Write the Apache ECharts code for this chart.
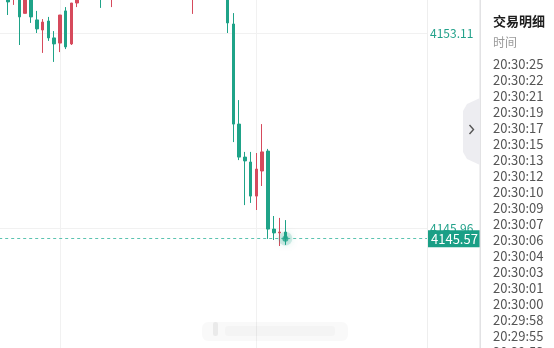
<!DOCTYPE html>
<html>
<head>
<meta charset="utf-8">
<script src="https://cdn.jsdelivr.net/npm/echarts@6/dist/echarts.min.js"></script>
<style>
html,body{margin:0;padding:0;background:#fff;}
#c{width:554px;height:348px;}
</style>
</head>
<body>
<div id="c"></div>
<script>
// ---- data ----
const categories = Array.from({length: 74}, (_, i) => 'K' + i);
const opens  = [4154.47,4154.43,4154.50,4153.83,4154.43,4153.59,4153.22,4153.55,4152.93,4152.74,4153.92,4152.71,4154.21,
                4155.10,4154.80,4155.40,4155.90,4155.20,4154.90,4155.60,4156.20,4155.80,4156.50,4157.00,4156.40,4156.00,
                4156.60,4157.30,4156.90,4156.30,4155.80,4156.20,4155.60,4156.10,4155.70,4156.40,4155.90,4155.50,4155.60,
                4153.44,4149.77,4148.56,4148.38,4147.13,4148.05,4148.78,4145.92,4145.78,4145.81];
const closes = [4154.25,4154.76,4153.70,4154.50,4153.70,4153.26,4153.51,4152.93,4152.71,4153.77,4152.60,4154.21,4154.54,
                4154.80,4155.40,4155.90,4155.20,4154.90,4155.60,4156.20,4155.80,4156.50,4157.00,4156.40,4156.00,4156.60,
                4157.30,4156.90,4156.30,4155.80,4156.20,4155.60,4156.10,4155.70,4156.40,4155.90,4155.50,4155.80,4153.48,
                4149.77,4148.56,4148.42,4147.13,4148.12,4148.75,4145.92,4145.78,4145.81,4145.57];
const lows   = [4153.77,4154.14,4152.67,4153.83,4153.48,4153.11,4152.38,4152.82,4152.05,4152.41,4152.52,4152.67,4154.06,
                4154.60,4154.70,4155.20,4154.03,4154.70,4154.06,4155.40,4155.60,4155.70,4156.30,4156.20,4155.80,4155.90,
                4156.50,4156.70,4156.10,4155.60,4155.50,4155.40,4153.81,4155.50,4155.60,4155.70,4155.30,4155.30,4153.11,
                4149.11,4148.45,4146.80,4146.88,4146.62,4147.50,4145.56,4145.52,4145.30,4145.34];
const highs  = [4154.69,4154.87,4154.69,4154.61,4154.54,4153.92,4153.62,4153.70,4153.18,4153.77,4154.06,4154.21,4154.61,
                4155.30,4155.60,4156.10,4156.00,4155.40,4155.80,4156.40,4156.50,4156.70,4157.20,4157.10,4156.60,4156.80,
                4157.50,4157.40,4157.00,4156.40,4156.30,4156.30,4156.30,4156.20,4156.60,4156.50,4156.00,4156.00,4155.80,
                4153.84,4150.65,4148.75,4148.75,4148.71,4149.77,4148.86,4146.40,4146.33,4146.25];
const yTickStart = 4138.81;
const yTickStep = 7.15;
const yTickEnd = 4160.26;
const lastPrice = 4145.57;
const panelTitle = '交易明细';
const panelHeader = '时间';
const tradeTimes = ['20:30:25','20:30:22','20:30:21','20:30:19','20:30:17','20:30:15','20:30:13','20:30:12',
                    '20:30:10','20:30:09','20:30:07','20:30:06','20:30:04','20:30:03','20:30:01','20:30:00',
                    '20:29:58','20:29:55','20:29:53'];

// ---- styles ----
const UP = '#d64a5c', DOWN = '#1fa388', TEAL = '#1a9f86';
const FONT = '"Noto Sans CJK SC","Noto Sans",sans-serif';

// first category is the partially scrolled-out slot at the left edge (no candle)
const kdata = [['-','-','-','-']].concat(opens.map((o, i) => [o, closes[i], lows[i], highs[i]]));
const lastIdx = kdata.length - 1;

const graphics = [
  {type:'rect', shape:{x:480, y:0, width:74, height:348}, style:{fill:'#fff'}, z:10},
  {type:'rect', shape:{x:479.5, y:0, width:1.5, height:348}, style:{fill:'#e2e2e4'}, z:11},
  {type:'polygon', shape:{points:[[480,98],[467,104],[463,111],[463,152],[467,159],[480,165]]}, style:{fill:'#ededf1'}, z:11},
  {type:'polyline', shape:{points:[[469.5,125],[473.5,129.5],[469.5,134]]}, style:{stroke:'#555', lineWidth:1.4, fill:null}, z:12},
  {type:'text', x:493, y:21, style:{text:panelTitle, font:'bold 13px ' + FONT, fill:'#1d1d1d', verticalAlign:'middle'}, z:12},
  {type:'text', x:493, y:42, style:{text:panelHeader, font:'12px ' + FONT, fill:'#9a9a9a', verticalAlign:'middle'}, z:12},
  // faint blurred watermark near bottom
  {type:'rect', shape:{x:202, y:322, width:146, height:19, r:6}, style:{fill:'rgba(0,0,0,0.022)'}, z:1},
  {type:'rect', shape:{x:213, y:322, width:5, height:14, r:2}, style:{fill:'rgba(0,0,0,0.06)'}, z:1},
  {type:'rect', shape:{x:225, y:326, width:110, height:10, r:3}, style:{fill:'rgba(0,0,0,0.02)'}, z:1}
];
tradeTimes.forEach((t, i) => {
  graphics.push({type:'text', x:493, y:64 + i * 16, style:{text:t, font:'13px ' + FONT, fill:'#555', verticalAlign:'middle'}, z:12});
});

const chart = echarts.init(document.getElementById('c'), null, {renderer:'canvas'});
chart.setOption({
  animation: false,
  backgroundColor: '#fff',
  grid: {left:-0.8, right:127, top:-162, bottom:-75, containLabel:false, outerBoundsMode:'none'},
  xAxis: {
    type:'category', data:categories, boundaryGap:true,
    axisLine:{show:false}, axisTick:{show:false}, axisLabel:{show:false},
    splitLine:{show:true, alignWithLabel:true, interval:(i) => i === 10 || i === 44, lineStyle:{color:'#f1f1f1', width:1}}
  },
  yAxis: {
    type:'value', position:'right', scale:true,
    min:yTickStart, max:yTickEnd, interval:yTickStep,
    axisLine:{show:true, lineStyle:{color:'#eeeeee'}},
    axisTick:{show:false},
    axisLabel:{color:'#23a28b', fontSize:12, fontFamily:FONT, margin:3, formatter:(v) => v.toFixed(2)},
    splitLine:{show:true, lineStyle:{color:'#f1f1f1'}}
  },
  series: [
    {
      type:'candlestick', data:kdata, barWidth:3,
      itemStyle:{color:UP, color0:DOWN, borderColor:UP, borderColor0:DOWN, borderWidth:1},
      markLine:{
        symbol:['none','none'], silent:true,
        data:[{yAxis:lastPrice}],
        lineStyle:{type:[3,3], color:'#5cc3b0', width:1},
        label:{show:true, position:'end', distance:1, formatter:() => lastPrice.toFixed(2),
               color:'#fff', backgroundColor:TEAL, fontSize:13, fontFamily:FONT, lineHeight:15, padding:[1,3]}
      }
    },
    {
      type:'scatter', data:[[categories[lastIdx], lastPrice]], symbolSize:14, z:4,
      itemStyle:{color:'rgba(31,163,136,0.22)'}, silent:true
    },
    {
      type:'scatter', data:[[categories[lastIdx], lastPrice]], symbolSize:6, z:5,
      itemStyle:{color:'#1fa388', shadowBlur:8, shadowColor:'rgba(31,163,136,0.9)'}, silent:true
    }
  ],
  graphic: graphics
});
</script>
</body>
</html>
